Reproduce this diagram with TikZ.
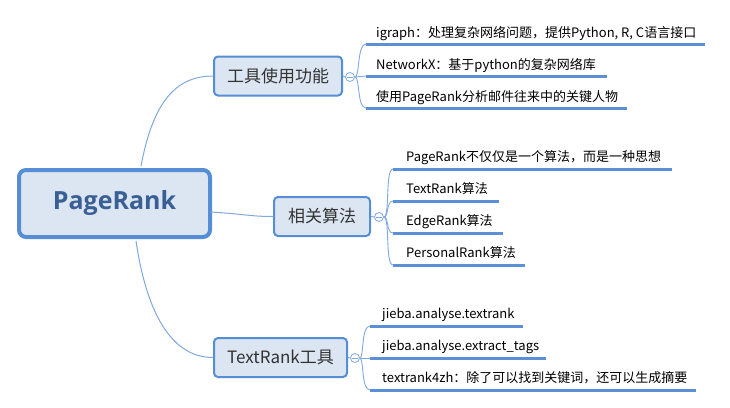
\documentclass[tikz,border=0pt]{standalone}
\usepackage{fontspec}
\setmainfont{Noto Sans CJK SC}
\newfontfamily\rootfont{Open Sans}
\usetikzlibrary{calc}
\definecolor{boxfill}{HTML}{DCE6F2}
\definecolor{boxline}{HTML}{558ED5}
\definecolor{rootText}{HTML}{3A5F94}
\definecolor{subText}{HTML}{333333}
\definecolor{ulblue}{HTML}{5B8FD6}
\definecolor{connblue}{HTML}{7FA8DD}
\tikzset{
  rootbox/.style={draw=boxline, fill=boxfill, line width=4pt, rounded corners=7pt,
    minimum width=191pt, minimum height=67pt, inner sep=0pt,
    font=\rootfont\fontsize{25}{30}\selectfont\bfseries, text=rootText},
  subbox/.style={draw=boxline, fill=boxfill, line width=2pt, rounded corners=4pt,
    minimum height=39pt, inner sep=0pt, font=\fontsize{17}{20}\selectfont, text=subText},
  leaf/.style={anchor=base west, inner sep=0pt, font=\fontsize{13}{15}\selectfont, text=black},
  tog/.style={circle, draw=connblue, fill=white, line width=0.8pt, minimum size=9pt, inner sep=0pt},
  minus/.style={draw=connblue, line width=0.8pt},
  uline/.style={draw=ulblue, line width=3pt},
  conn/.style={draw=connblue, line width=0.9pt},
  rconn/.style={draw=connblue, line width=1pt},
}
\begin{document}
\begin{tikzpicture}[x=1pt,y=-1pt]
\useasboundingbox (0,0) rectangle (730,407);

% root and main branches
\node[rootbox] (root) at (114.5,203.5) {PageRank};
\node[subbox, minimum width=128pt] (tool) at (278,76) {工具使用功能};
\node[subbox, minimum width=96pt] (algo) at (322,216.5) {相关算法};
\node[subbox, minimum width=133pt] (trt) at (280.5,357.5) {TextRank工具};

\coordinate (rtop) at (141,166);
\coordinate (rmid) at (210,212);
\coordinate (rbot) at (136,241);
\draw[rconn] (rtop) .. controls (152,108) and (172,76) .. (tool.west);
\draw[rconn] (rmid) .. controls (245,214) and (250,216.5) .. (algo.west);
\draw[rconn] (rbot) .. controls (148,322) and (176,357.5) .. (trt.west);

% toggles
\node[tog] (c1) at (350,77) {};
\node[tog] (c2) at (379,217) {};
\node[tog] (c3) at (355,358) {};
\foreach \c in {c1,c2,c3}{
  \draw[minus] ([xshift=2pt]\c.west) -- ([xshift=-2pt]\c.east);
}
\draw[conn] (tool.east) -- (c1.west);
\draw[conn] (algo.east) -- (c2.west);
\draw[conn] (trt.east) -- (c3.west);

% group 1 leaves
\node[leaf] (l11) at (376,37) {igraph：处理复杂网络问题，提供Python, R, C语言接口};
\node[leaf] (l12) at (376,69) {NetworkX：基于python的复杂网络库};
\node[leaf] (l13) at (376,101) {使用PageRank分析邮件往来中的关键人物};
\coordinate (u11a) at (366,44);  \coordinate (u11b) at (705,44);
\coordinate (u12a) at (366,76);  \coordinate (u12b) at (607,76);
\coordinate (u13a) at (366,108); \coordinate (u13b) at (627,108);
\draw[uline] (u11a) -- (u11b);
\draw[uline] (u12a) -- (u12b);
\draw[uline] (u13a) -- (u13b);
\draw[conn] (c1.east) .. controls (360,77) and (357,44) .. (u11a);
\draw[conn] (c1.east) -- (u12a);
\draw[conn] (c1.east) .. controls (360,77) and (357,108) .. (u13a);

% group 2 leaves
\node[leaf] (l21) at (406,161) {PageRank不仅仅是一个算法，而是一种思想};
\node[leaf] (l22) at (406,193) {TextRank算法};
\node[leaf] (l23) at (406,225) {EdgeRank算法};
\node[leaf] (l24) at (406,257) {PersonalRank算法};
\coordinate (u21a) at (393,169); \coordinate (u21b) at (672,169);
\coordinate (u22a) at (393,201); \coordinate (u22b) at (499,201);
\coordinate (u23a) at (393,233); \coordinate (u23b) at (503,233);
\coordinate (u24a) at (393,265); \coordinate (u24b) at (525,265);
\draw[uline] (u21a) -- (u21b);
\draw[uline] (u22a) -- (u22b);
\draw[uline] (u23a) -- (u23b);
\draw[uline] (u24a) -- (u24b);
\draw[conn] (c2.east) .. controls (390,217) and (385,169) .. (u21a);
\draw[conn] (c2.east) .. controls (389,217) and (386,201) .. (u22a);
\draw[conn] (c2.east) .. controls (389,217) and (386,233) .. (u23a);
\draw[conn] (c2.east) .. controls (390,217) and (385,265) .. (u24a);

% group 3 leaves
\node[leaf] (l31) at (382,318) {jieba.analyse.textrank};
\node[leaf] (l32) at (382,350) {jieba.analyse.extract\_tags};
\node[leaf] (l33) at (382,382) {textrank4zh：除了可以找到关键词，还可以生成摘要};
\coordinate (u31a) at (370,326); \coordinate (u31b) at (523,326);
\coordinate (u32a) at (370,358); \coordinate (u32b) at (546,358);
\coordinate (u33a) at (370,390); \coordinate (u33b) at (696,390);
\draw[uline] (u31a) -- (u31b);
\draw[uline] (u32a) -- (u32b);
\draw[uline] (u33a) -- (u33b);
\draw[conn] (c3.east) .. controls (364,358) and (361,326) .. (u31a);
\draw[conn] (c3.east) -- (u32a);
\draw[conn] (c3.east) .. controls (364,358) and (361,390) .. (u33a);
\end{tikzpicture}
\end{document}
